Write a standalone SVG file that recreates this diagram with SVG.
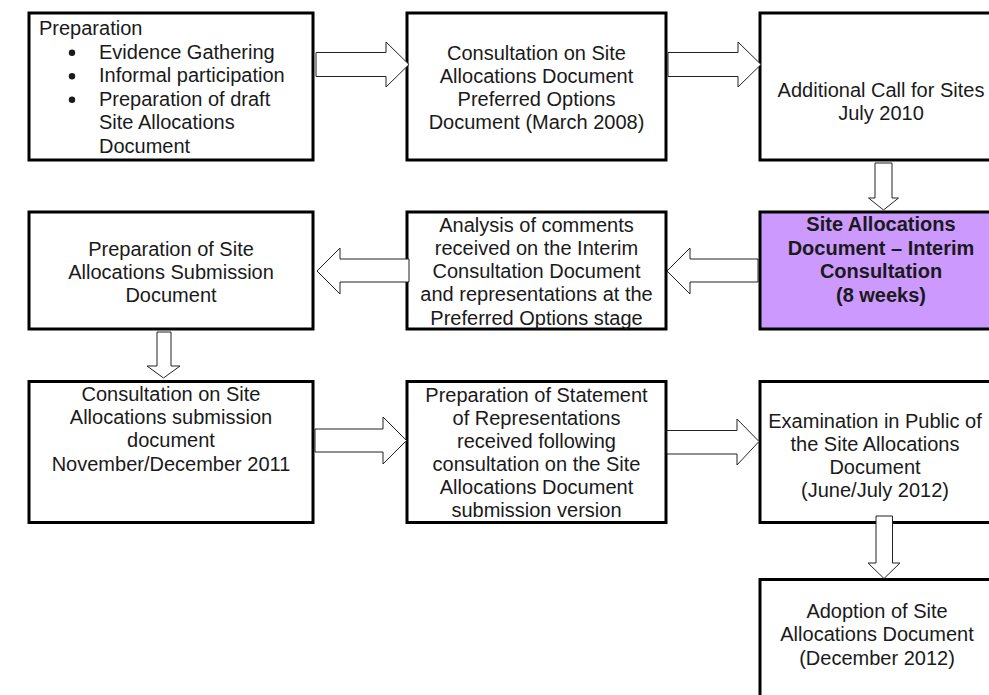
<svg xmlns="http://www.w3.org/2000/svg" width="989" height="695" viewBox="0 0 989 695">
<style>
.box{fill:#fff;stroke:#000;stroke-width:3}
.hl{fill:#cc99ff;stroke:#000;stroke-width:3}
.arr{fill:#fff;stroke:#222;stroke-width:1}
text{font-family:"Liberation Sans",Arial,Helvetica,sans-serif;font-size:20px;fill:#1a1a1a}
.c{text-anchor:middle}
.b{font-weight:bold}
</style>
<rect x="0" y="0" width="989" height="695" fill="#fff"/>
<g id="n1">
<rect class="box" x="29" y="13" width="284" height="147"/>
<text x="39" y="35">Preparation</text>
<circle cx="72" cy="52.7" r="3.2" fill="#1a1a1a"/>
<circle cx="72" cy="76.2" r="3.2" fill="#1a1a1a"/>
<circle cx="72" cy="99.7" r="3.2" fill="#1a1a1a"/>
<text x="99" y="58.5">Evidence Gathering</text>
<text x="99" y="82">Informal participation</text>
<text x="99" y="105.5">Preparation of draft</text>
<text x="99" y="129">Site Allocations</text>
<text x="99" y="152.5">Document</text>
</g>
<g id="n2">
<rect class="box" x="407" y="13" width="259" height="147"/>
<text class="c" x="536.5" y="60">Consultation on Site</text>
<text class="c" x="536.5" y="83">Allocations Document</text>
<text class="c" x="536.5" y="106">Preferred Options</text>
<text class="c" x="536.5" y="129">Document (March 2008)</text>
</g>
<g id="n3">
<rect class="box" x="760" y="13" width="245" height="147"/>
<text class="c" x="881" y="97">Additional Call for Sites</text>
<text class="c" x="881" y="120">July 2010</text>
</g>
<g id="n4">
<rect class="hl" x="760" y="212" width="245" height="117"/>
<text class="c b" x="881" y="231">Site Allocations</text>
<text class="c b" x="881" y="254.5">Document – Interim</text>
<text class="c b" x="881" y="278">Consultation</text>
<text class="c b" x="881" y="301.5">(8 weeks)</text>
</g>
<g id="n5">
<rect class="box" x="407" y="212" width="259" height="117"/>
<text class="c" x="536.5" y="231.5">Analysis of comments</text>
<text class="c" x="536.5" y="254.8">received on the Interim</text>
<text class="c" x="536.5" y="278">Consultation Document</text>
<text class="c" x="536.5" y="301.3">and representations at the</text>
<text class="c" x="536.5" y="324.6">Preferred Options stage</text>
</g>
<g id="n6">
<rect class="box" x="29" y="212" width="284" height="117"/>
<text class="c" x="171" y="255.5">Preparation of Site</text>
<text class="c" x="171" y="278.8">Allocations Submission</text>
<text class="c" x="171" y="302">Document</text>
</g>
<g id="n7">
<rect class="box" x="29" y="381.5" width="284" height="141"/>
<text class="c" x="171" y="400.7">Consultation on Site</text>
<text class="c" x="171" y="424">Allocations submission</text>
<text class="c" x="171" y="447.3">document</text>
<text class="c" x="171" y="470.6">November/December 2011</text>
</g>
<g id="n8">
<rect class="box" x="407" y="381.5" width="259" height="141"/>
<text class="c" x="536.5" y="401.6">Preparation of Statement</text>
<text class="c" x="536.5" y="424.6">of Representations</text>
<text class="c" x="536.5" y="447.6">received following</text>
<text class="c" x="536.5" y="470.6">consultation on the Site</text>
<text class="c" x="536.5" y="493.6">Allocations Document</text>
<text class="c" x="536.5" y="516.6">submission version</text>
</g>
<g id="n9">
<rect class="box" x="760" y="381.5" width="245" height="141"/>
<text class="c" x="875" y="427.6">Examination in Public of</text>
<text class="c" x="875" y="450.8">the Site Allocations</text>
<text class="c" x="875" y="474">Document</text>
<text class="c" x="875" y="497">(June/July 2012)</text>
</g>
<g id="n10">
<rect class="box" x="760" y="579.5" width="245" height="140"/>
<text class="c" x="877" y="617.6">Adoption of Site</text>
<text class="c" x="877" y="641">Allocations Document</text>
<text class="c" x="877" y="664.5">(December 2012)</text>
</g>
<g id="connectors">
<polygon class="arr" points="316,52.5 386,52.5 386,42 409,64.5 386,87 386,76.5 316,76.5"/>
<polygon class="arr" points="668,52.5 738,52.5 738,42 761,64.5 738,87 738,76.5 668,76.5"/>
<polygon class="arr" points="875,163 892,163 892,198 898.5,198 883.5,210 868.5,198 875,198"/>
<polygon class="arr" points="758,259 690,259 690,248 667,271 690,294 690,282 758,282"/>
<polygon class="arr" points="409,259 340,259 340,248 317,271 340,294 340,282 409,282"/>
<polygon class="arr" points="157,332 171,332 171,366 180,366 163.5,378 147,366 157,366"/>
<polygon class="arr" points="315,429 383,429 383,417 406.5,440.5 383,464 383,452 315,452"/>
<polygon class="arr" points="667,430.5 737,430.5 737,419 759,441.5 737,465 737,454 667,454"/>
<polygon class="arr" points="876,516 892.5,516 892.5,563 900,563 884,578.5 868,563 876,563"/>
</g>
</svg>
